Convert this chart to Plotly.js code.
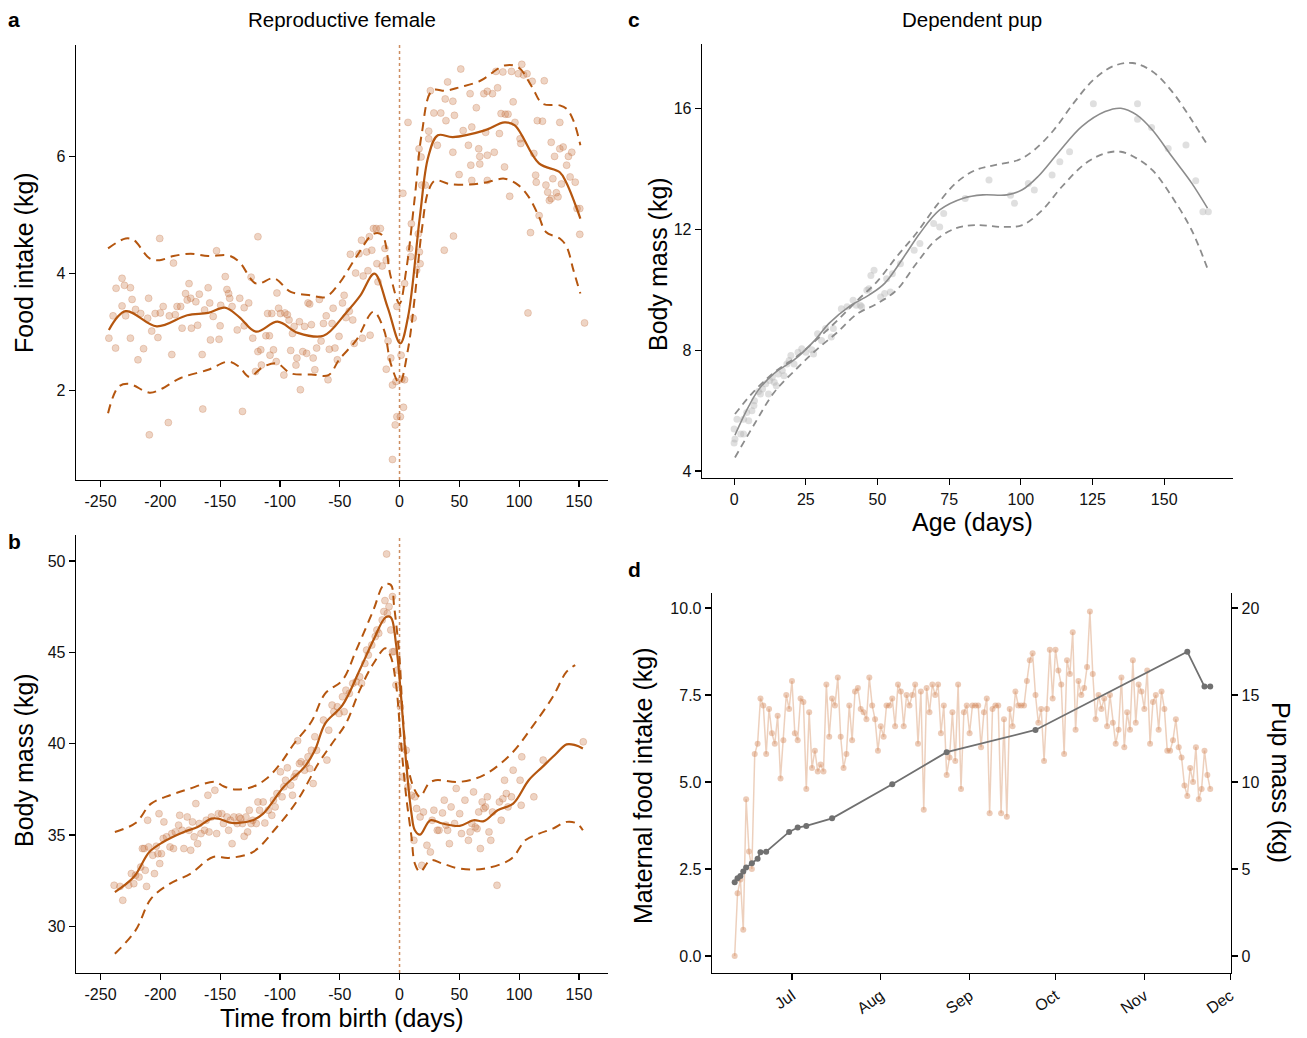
<!DOCTYPE html>
<html>
<head>
<meta charset="utf-8">
<script src="https://cdn.plot.ly/plotly-3.0.1.min.js"></script>
<style>html,body{margin:0;padding:0;background:#fff;}#chart{width:1307px;height:1038px;}</style>
</head>
<body>
<div id="chart"></div>
<script>
// ---------- Panel a: reproductive female, food intake ----------
const aPtsX = [-243,-237.4,-237,-239.5,-232,-230,-225,-232,-229,-223.6,-225,-220.7,-218.7,-216.4,-214,-210.6,-209.8,-209.2,-207.2,-204.3,-202,-200.5,-200,-197.6,-193.3,-192.5,-190.4,-189,-187.5,-186,-183,-181.8,-178.9,-177.5,-176,-174.6,-174,-170.3,-168.8,-167.4,-165,-164.5,-163,-160,-158.7,-158.1,-155.8,-153,-150.9,-150,-149.5,-145.7,-144.3,-142.9,-142,-140,-135.7,-133.6,-131.3,-129.9,-129.9,-126.1,-124.1,-122.7,-120.4,-118.4,-118.4,-116,-115.5,-111.7,-110.3,-108.8,-108.3,-106.8,-105.4,-103.1,-102.5,-101.1,-99.6,-96.7,-95.9,-93.8,-92.4,-91,-89.5,-88.1,-86.6,-85.8,-83.7,-82.9,-80.9,-79.4,-77.7,-76.5,-75.1,-73.7,-72.2,-70.8,-69.3,-67,-65.6,-63.6,-61.3,-59.8,-58.7,-56.4,-55.5,-54,-52,-50.6,-47.7,-46.3,-44.8,-42,-41.1,-39.1,-37.9,-36.7,-33.9,-31.8,-31,-30.4,-27.5,-26.4,-25.2,-24.6,-23.2,-21.8,-19.5,-18.9,-18,-16,-14.5,-12.2,-11.1,-11.1,-9.6,-7.3,-5.9,-5.9,-3,-3.6,-2.2,-2.2,0.7,1.3,1.9,2.8,3.3,4.2,4.2,7.1,8.5,9.4,9.9,11.4,14.3,15.7,16.6,17.2,18,18.6,16.3,21.5,25.8,24.4,24.4,28.7,31.6,34.5,37.4,38.2,38.8,40.2,44.6,44.6,45.1,45.9,49.8,51.2,53.2,57.6,59,59.6,60.4,60.4,64.2,66.2,67.1,67.1,70.5,72,73.4,73.4,73.4,77.7,79.2,80.6,82,83.5,84.9,86.4,87.8,88.4,90.7,92.1,93.6,95,96.5,99.3,100.8,101.4,102.2,103.7,106.6,109.5,107.4,110.9,112.3,113.8,114.3,115.2,116.7,119.5,121,122.4,123.9,125.3,126.8,126.8,128.2,129.6,131.1,132.5,134,134,135.4,136.8,139.7,141.2,142.6,144,146.9,148.4,150.7,150.7,154.7];
const aPtsY = [2.90,2.73,3.75,3.28,3.92,3.80,3.76,3.45,3.28,3.56,2.90,3.39,2.53,3.32,2.72,3.24,3.58,1.25,3.02,3.32,2.91,4.60,3.33,3.44,1.46,3.28,2.62,4.18,3.30,3.44,3.44,3.07,3.66,3.55,3.83,3.58,3.07,3.52,3.12,3.65,2.62,1.69,3.38,3.76,3.50,2.87,3.27,4.39,2.88,3.11,3.46,3.95,3.73,3.66,3.58,3.44,3.04,3.58,1.65,3.42,3.11,3.50,3.94,2.90,2.33,4.63,2.67,2.70,2.44,2.94,3.32,2.94,2.61,3.32,2.70,2.50,3.67,3.41,3.32,2.27,3.33,3.30,3.21,2.69,2.98,3.10,2.44,2.56,3.18,2.02,2.67,3.10,2.64,3.50,3.48,3.13,2.56,2.36,2.73,3.56,2.85,3.15,3.28,2.19,2.71,3.15,3.41,2.73,2.53,2.93,3.50,3.63,3.25,3.36,4.33,3.21,2.81,4.01,4.34,4.57,2.90,3.96,4.37,4.05,4.63,2.95,4.40,4.77,4.77,4.17,3.86,4.77,4.13,4.43,4.23,2.37,2.85,2.56,2.10,0.83,2.16,1.42,1.56,3.44,1.56,2.61,2.20,5.37,1.72,2.19,3.83,6.58,4.43,4.29,4.85,3.24,4.06,4.68,4.37,4.17,5.99,5.51,6.13,5.51,7.12,6.43,6.30,6.74,6.19,6.74,4.40,6.98,6.61,7.27,6.07,6.94,4.64,6.70,5.69,7.49,6.44,6.19,7.07,5.85,6.50,5.59,6.83,6.13,6.00,5.87,7.07,6.41,7.11,6.02,5.59,7.07,6.07,7.45,7.17,6.39,6.73,7.44,5.82,6.72,6.72,5.32,7.45,6.93,6.58,7.41,6.30,6.22,7.57,7.39,7.41,4.70,3.33,7.28,6.05,5.68,5.56,6.61,4.99,6.60,7.29,5.51,5.39,5.25,6.24,5.28,5.62,6.00,5.38,5.31,6.58,6.13,5.53,6.16,5.85,6.00,5.65,6.07,5.56,5.11,5.11,4.67,3.16];
const aFitX = [-243,-229,-203,-177.5,-160,-146,-134,-120,-102,-85,-63.6,-44.8,-33,-21,-10,0.6,7.1,17,24,32,44.6,70.5,87.8,96.4,116.6,134,139.7,151.2];
const aFitY = [3.04,3.36,3.10,3.29,3.33,3.42,3.26,3.01,3.18,2.99,2.94,3.33,3.62,4.00,3.43,2.81,3.26,4.97,5.99,6.36,6.33,6.44,6.58,6.53,5.88,5.73,5.54,4.94];
const aUpX = [-243.7,-229,-222,-209,-200.5,-189,-174.6,-160,-143,-134,-119.8,-105,-91,-73.7,-62,-50.6,-36,-21.8,-14.6,-7.4,0,5.6,12.8,18.6,27.2,38.8,50.3,67.6,87.8,99.3,110.9,119.5,134,139.7,145.4,151.2];
const aUpY = [4.43,4.60,4.57,4.26,4.23,4.30,4.34,4.30,4.31,4.20,3.83,3.92,3.69,3.63,3.60,3.83,4.29,4.68,4.66,3.95,3.49,4.06,5.31,6.39,7.12,7.12,7.18,7.29,7.55,7.52,7.18,6.90,6.87,6.81,6.61,6.19];
const aLoX = [-243.7,-235,-226.5,-209,-200.5,-183,-160,-143,-134,-125.6,-114,-102.5,-91,-73.7,-59.3,-50.6,-36,-21.8,-13,-7.4,0,7,12.8,18.6,24.3,30,41.6,59,73.3,87.8,99.3,108,116.6,122.4,134,139.7,145.4,151.2];
const aLoY = [1.62,2.07,2.12,1.97,2.02,2.22,2.36,2.50,2.41,2.24,2.41,2.47,2.30,2.28,2.27,2.53,2.87,3.35,3.04,2.47,2.13,2.70,3.61,4.74,5.42,5.59,5.53,5.52,5.56,5.62,5.51,5.31,4.97,4.71,4.60,4.46,4.06,3.66];

// ---------- Panel b: reproductive female, body mass ----------
const bPtsX = [-238.6,-231.4,-233.7,-226.5,-224.2,-222.2,-220.7,-217.8,-216.4,-215,-213.5,-212.6,-211.5,-210.6,-209.8,-206.3,-204.9,-203.4,-202,-201.1,-200.5,-199.1,-197.6,-197,-194.8,-191.9,-190.4,-189,-187.5,-184.7,-183.8,-181.8,-180.3,-177.5,-176,-174.6,-173.1,-171.7,-170.3,-168.8,-167.4,-166,-163,-161.6,-160.2,-159.3,-157.3,-154.4,-152.9,-151.5,-148.6,-147.2,-144.3,-142.9,-141.4,-140,-138.5,-135.7,-134.2,-132.8,-131.3,-129.9,-128.4,-127,-125.6,-124.1,-122.7,-119.8,-118.4,-117,-114,-112.6,-109.7,-106.8,-105.4,-104,-102.5,-99.6,-98.2,-96.7,-95.3,-93.8,-91,-89.5,-88.1,-86.6,-85.2,-83.7,-82.3,-79.4,-78,-76.5,-75.1,-73.7,-72.2,-70.8,-69.3,-63.6,-60.7,-59.2,-56.4,-54.9,-52,-50.6,-47.7,-46.3,-44.8,-42,-39.1,-36.2,-33.3,-31.8,-29,-27.5,-26.1,-23.2,-20.3,-18.9,-17.4,-14.5,-13.1,-12.2,-10.8,-10.2,-8.8,-7.3,-5.9,-5.9,-4.5,-3,-1.6,0.7,1.9,2.8,5.6,7.1,10,12,12.8,14.3,17.2,18.6,20,22.9,25.8,27.3,28.7,31.6,33,35.9,37.4,38.8,40.2,41.7,43.1,46,47.4,50.3,51.8,54.7,57.6,59,60.4,61.9,63.3,64.8,66.2,67.6,69.1,70.5,71.9,73.4,74.8,76.3,77.7,81.5,83.5,85,86.4,87.8,89.3,90.7,93.6,95,100.8,101.7,102.2,112.3,120.1,153.6];
const bPtsY = [32.25,31.43,32.19,32.25,32.89,32.34,32.80,32.70,33.25,34.26,34.26,33.07,32.19,35.81,34.35,33.89,32.89,34.39,33.98,36.17,33.44,33.98,34.81,35.72,34.90,34.35,35.08,34.26,35.17,35.54,36.08,35.26,34.26,35.99,35.26,34.17,35.72,34.90,36.72,34.53,35.63,35.08,35.26,35.81,37.18,35.17,35.99,37.45,35.08,36.17,36.17,35.63,35.99,35.26,35.81,34.53,35.99,35.63,35.99,35.90,35.63,34.93,35.99,35.17,36.36,35.63,35.81,35.63,36.81,36.36,36.81,35.66,36.36,36.08,36.91,36.54,37.27,38.46,37.09,37.64,38.00,38.68,37.73,37.18,38.18,38.37,40.16,38.91,39.01,38.55,38.91,39.28,38.64,39.64,37.82,40.38,39.64,41.29,39.10,40.74,42.11,41.75,42.02,41.65,42.57,41.75,42.93,42.75,43.30,43.39,43.66,43.30,44.39,45.12,44.85,45.40,45.86,46.22,46.04,46.77,47.23,47.83,50.38,47.13,47.50,46.22,48.05,45.03,45.04,43.21,44.03,42.02,39.83,38.18,39.64,37.64,37.18,34.71,37.09,36.45,35.99,33.34,36.26,34.44,34.07,35.81,36.36,35.26,35.26,36.21,36.91,35.54,35.26,34.53,36.54,35.63,37.55,36.17,35.08,36.91,34.71,35.17,35.63,37.36,35.44,35.35,36.26,34.26,36.81,36.45,36.54,37.09,35.17,34.71,36.26,32.25,36.81,35.81,36.99,38.00,37.27,36.54,37.09,38.55,38.00,36.63,39.28,37.09,39.10,40.10];
const bFitX = [-238,-222.2,-209.2,-197.6,-180.3,-168.8,-157.3,-151.5,-140,-122.7,-114,-96.7,-79.4,-70.8,-62.1,-47.7,-33.3,-21.8,-11.7,-7.3,-3,1.3,5.6,10,12.8,17.2,25.8,35.9,50.3,61.9,70.5,82,95,108,119.5,131.1,139.7,146.9,153.3];
const bFitY = [31.88,32.70,34.07,34.62,35.17,35.44,35.90,35.90,35.66,35.81,36.17,37.64,38.73,39.64,41.11,42.11,44.03,45.67,46.91,46.91,45.49,42.57,38.91,36.17,35.26,35.02,35.81,35.63,35.50,35.81,35.76,36.36,36.72,38.00,38.73,39.46,39.96,39.92,39.74];
const bUpX = [-238,-220.7,-207.7,-191.9,-177.5,-154.4,-147.2,-137.1,-122.7,-111.1,-99.6,-88.1,-73.7,-62.1,-47.7,-36.2,-21.8,-13.1,-7.3,-4.5,-0.1,2.8,7.1,12.8,17.2,24.4,30.1,50.3,70.5,93.6,110.9,128.2,139.7,146.9];
const bUpY = [35.17,35.66,36.72,37.18,37.49,37.91,37.67,37.49,37.64,38.09,38.91,40.01,41.20,42.75,43.48,45.12,47.32,48.69,48.69,47.50,44.76,41.47,38.73,37.45,37.09,37.82,38.00,37.91,38.28,39.46,40.92,42.57,43.94,44.30];
const bLoX = [-238,-220.7,-207.7,-191.9,-174.6,-155.8,-142.9,-122.7,-102.5,-85.2,-67.9,-56.4,-44.8,-33.3,-21.8,-11.7,-7.3,-3,1.3,5.6,10,12.8,17.2,25.8,35.9,50.3,70.5,93.6,105.1,116.7,128.2,139.7,148.4,153.3];
const bLoY = [28.50,29.78,31.52,32.34,32.89,33.80,33.75,34.07,35.44,36.91,38.91,40.01,41.11,42.93,44.39,45.22,44.76,43.30,40.01,37.09,34.90,33.44,32.98,33.62,33.44,33.16,33.16,33.71,34.71,35.08,35.35,35.72,35.63,35.26];

// ---------- Panel c: dependent pup, body mass ----------
const cPtsX = [0,0.3,0,1,2.3,3.3,3.3,4.4,5.1,6.2,6.9,7.1,8.5,9.2,9.9,11,12,12.4,13.3,14,14.7,15.4,16.8,17.4,18.4,19.2,19.8,20.9,22.3,23.6,25,27.1,27.7,29.1,30.5,31.9,33.9,34.6,37.4,39.4,41.5,42.6,44,44.5,46.3,47,47.7,48.8,51.1,52.5,53.2,54.5,55.2,58,62.8,64.8,69.6,71.7,73.1,80.6,88.9,96.4,97.8,102.6,104.7,110.9,113.6,117,125.3,140.7,140.7,145.6,151.4,157.6,161,163.5,165.4];
const cPtsY = [4.93,5.06,5.39,5.72,5.23,5.23,5.72,5.94,5.67,6.00,6.17,6.33,6.64,6.55,6.72,6.89,6.55,7.00,7.11,6.94,6.83,7.22,7.33,7.16,7.55,7.66,7.83,7.55,7.94,8.05,7.94,8.02,7.88,8.55,8.33,8.72,8.44,8.72,9.38,9.44,9.66,9.49,9.49,9.44,9.99,10.04,10.48,10.65,9.77,9.88,10.37,9.93,10.54,10.87,11.32,11.54,12.20,12.09,12.53,13.03,13.64,13.14,12.87,13.53,13.31,13.81,14.25,14.58,16.17,16.17,15.66,15.38,14.69,14.80,13.62,12.59,12.59];
const cFitX = [0.3,4.4,8.5,14.0,20.9,27.7,33.2,40.1,47.0,52.5,59.3,64.8,71.7,79.9,86.8,95.1,100.5,106.0,112.9,121.2,129.4,134.9,140.4,145.9,152.7,159.6,165.1];
const cFitY = [5.19,6.02,6.69,7.24,7.68,8.29,8.90,9.45,9.83,10.22,11.11,11.88,12.65,13.04,13.15,13.15,13.32,13.76,14.53,15.41,15.91,16.02,15.80,15.30,14.42,13.54,12.71];
const cUpX = [0.3,7.1,14,22.3,29.1,36,42.9,49.7,56.6,63.5,70.3,77.2,84.1,90.9,99.2,104.7,111.5,118.4,125.3,132.1,139,145.9,152.7,159.6,165.1];
const cUpY = [5.89,6.66,7.27,7.83,8.38,8.99,9.65,10.26,11.09,11.87,12.76,13.53,13.97,14.14,14.31,14.64,15.30,16.19,16.96,17.41,17.52,17.24,16.58,15.63,14.80];
const cLoX = [0.3,7.1,14,22.3,29.1,36,42.9,49.7,56.6,63.5,70.3,77.2,84.1,93.7,100.5,107.4,114.3,122.5,129.4,134.9,140.4,145.9,152.7,159.6,165.1];
const cLoY = [4.45,5.56,6.61,7.44,8.05,8.60,9.21,9.54,9.99,10.87,11.65,12.04,12.15,12.09,12.15,12.64,13.42,14.19,14.53,14.58,14.36,13.97,13.09,11.98,10.71];

// ---------- Panel d: maternal food intake & pup mass over the season ----------
const dYear = '2021';
const foodDates = ['06-11','06-12','06-13','06-14','06-15','06-16','06-17','06-18','06-19','06-20','06-21','06-22','06-23','06-24','06-25','06-26','06-27','06-28','06-29','06-30',
'07-01','07-02','07-03','07-04','07-05','07-06','07-07','07-08','07-09','07-10','07-11','07-12','07-13','07-14','07-15','07-16','07-17','07-18','07-19','07-20','07-21','07-22','07-23','07-24','07-25','07-26','07-27','07-28','07-29','07-30','07-31',
'08-01','08-02','08-03','08-04','08-05','08-06','08-07','08-08','08-09','08-10','08-11','08-12','08-13','08-14','08-15','08-16','08-17','08-18','08-19','08-20','08-21','08-22','08-23','08-24','08-25','08-26','08-27','08-28','08-29','08-30','08-31',
'09-01','09-02','09-03','09-04','09-05','09-06','09-07','09-08','09-09','09-10','09-11','09-12','09-13','09-14','09-15','09-16','09-17','09-18','09-19','09-20','09-21','09-22','09-23','09-24','09-25','09-26','09-27','09-28','09-29','09-30',
'10-01','10-02','10-03','10-04','10-05','10-06','10-07','10-08','10-09','10-10','10-11','10-12','10-13','10-14','10-15','10-16','10-17','10-18','10-19','10-20','10-21','10-22','10-23','10-24','10-25','10-26','10-27','10-28','10-29','10-30','10-31',
'11-01','11-02','11-03','11-04','11-05','11-06','11-07','11-08','11-09','11-10','11-11','11-12','11-13','11-14','11-15','11-16','11-17','11-18','11-19','11-20','11-21','11-22','11-23','11-24'];
const foodKg = [0.0,1.8,2.2,0.75,4.5,3.0,2.5,5.8,6.1,7.4,7.2,5.8,7.1,6.4,6.1,6.9,5.1,6.2,7.5,7.1,
7.9,6.4,6.2,7.4,7.3,4.8,7.0,5.4,5.9,5.3,5.5,5.3,7.8,6.3,7.4,7.2,8.0,6.3,5.4,5.8,7.2,6.2,7.6,7.7,7.1,7.0,6.8,8.0,7.2,6.8,5.9,
6.6,6.3,7.2,7.2,7.4,6.6,7.8,7.6,6.6,7.5,7.2,7.5,7.8,6.1,7.6,4.2,7.7,7.0,7.8,7.5,7.8,6.4,7.2,5.2,5.7,7.0,5.6,7.8,4.8,7.0,7.2,
6.4,7.2,7.2,7.2,6.0,7.0,7.4,4.1,7.1,7.2,7.2,4.1,6.8,4.0,7.1,6.6,7.6,7.2,7.2,7.2,7.9,8.5,8.7,7.5,6.7,7.1,5.6,7.1,
8.8,7.4,8.8,8.2,7.8,5.8,8.5,8.1,9.3,6.5,7.9,7.5,7.7,8.3,9.9,8.1,6.8,7.5,7.1,7.4,6.6,7.5,6.7,6.1,6.5,8.0,6.0,7.0,6.5,8.5,6.7,
7.8,7.6,7.1,8.2,6.1,7.3,7.5,6.5,7.6,7.1,5.9,5.9,6.2,6.8,6.0,5.7,4.9,4.6,5.4,5.0,6.0,4.5,4.8,5.9,5.2,4.8];
const pupDates = ['06-11','06-12','06-13','06-14','06-15','06-17','06-19','06-20','06-22','06-30','07-03','07-06','07-15','08-05','08-24','09-24','11-16','11-22','11-24'];
const pupKg = [4.24,4.47,4.60,4.85,5.08,5.33,5.59,5.96,5.99,7.13,7.38,7.47,7.91,9.87,11.71,12.99,17.49,15.48,15.48];

// ---------- Tick labels ----------
const abXTicks = [-250,-200,-150,-100,-50,0,50,100,150];
const abXText = ['-250','-200','-150','-100','-50','0','50','100','150'];
const aYTicks = [2,4,6];
const bYTicks = [30,35,40,45,50];
const cXTicks = [0,25,50,75,100,125,150];
const cYTicks = [4,8,12,16];
const dMonths = ['07-01','08-01','09-01','10-01','11-01','12-01'];
const dMonthText = ['Jul','Aug','Sep','Oct','Nov','Dec'];
const dLeftTicks = [0,2.5,5,7.5,10];
const dRightTicks = [0,5,10,15,20];

// ---------- Styling ----------
const FONT = 'Liberation Sans, Arial, Helvetica, sans-serif';
const ORANGE = '#b5560f';
const ptOrange = {color:'rgba(200,112,60,0.30)', size:7, line:{color:'rgba(190,100,50,0.30)', width:0.8}};
const ptGrey = {color:'rgba(175,175,175,0.40)', size:7, line:{width:0}};

function ax(extra){
  return Object.assign({showline:true, linecolor:'#000', linewidth:1.3, ticks:'outside', ticklen:6, tickwidth:1.2,
    tickcolor:'#000', showgrid:false, zeroline:false, mirror:false, fixedrange:true,
    tickfont:{family:FONT, size:16, color:'#111'}}, extra);
}
function pts(x,y,xa,ya,m){ return {type:'scatter', mode:'markers', x:x, y:y, xaxis:xa, yaxis:ya, marker:m, hoverinfo:'skip', showlegend:false}; }
function ln(x,y,xa,ya,color,w,dash){ return {type:'scatter', mode:'lines', x:x, y:y, xaxis:xa, yaxis:ya, line:{color:color, width:w, dash:dash, shape:'spline', smoothing:1}, hoverinfo:'skip', showlegend:false}; }

const withYear = arr => arr.map(s => dYear + '-' + s);

const traces = [
  pts(aPtsX, aPtsY, 'x', 'y', ptOrange),
  ln(aUpX, aUpY, 'x', 'y', ORANGE, 2, '9px,6px'),
  ln(aLoX, aLoY, 'x', 'y', ORANGE, 2, '9px,6px'),
  ln(aFitX, aFitY, 'x', 'y', ORANGE, 2.2, 'solid'),

  pts(bPtsX, bPtsY, 'x2', 'y2', ptOrange),
  ln(bUpX, bUpY, 'x2', 'y2', ORANGE, 2, '9px,6px'),
  ln(bLoX, bLoY, 'x2', 'y2', ORANGE, 2, '9px,6px'),
  ln(bFitX, bFitY, 'x2', 'y2', ORANGE, 2.2, 'solid'),

  pts(cPtsX, cPtsY, 'x3', 'y3', ptGrey),
  ln(cUpX, cUpY, 'x3', 'y3', '#8c8c8c', 1.8, '7px,5px'),
  ln(cLoX, cLoY, 'x3', 'y3', '#8c8c8c', 1.8, '7px,5px'),
  ln(cFitX, cFitY, 'x3', 'y3', '#8c8c8c', 1.6, 'solid'),

  {type:'scatter', mode:'lines+markers', x:withYear(foodDates), y:foodKg, xaxis:'x4', yaxis:'y4',
   line:{color:'rgba(222,170,135,0.55)', width:1.5}, marker:{color:'rgba(212,140,95,0.45)', size:6},
   hoverinfo:'skip', showlegend:false},
  {type:'scatter', mode:'lines+markers', x:withYear(pupDates), y:pupKg, xaxis:'x4', yaxis:'y5',
   line:{color:'#707070', width:1.8}, marker:{color:'#707070', size:6},
   hoverinfo:'skip', showlegend:false}
];

const W = 1307, H = 1038;
const px = v => v / W, py = v => 1 - v / H;

function note(text, x, y, size, extra){
  return Object.assign({text:text, x:px(x), y:py(y), xref:'paper', yref:'paper', showarrow:false,
    xanchor:'center', yanchor:'middle', font:{family:FONT, size:size, color:'#000'}}, extra||{});
}

const layout = {
  width:W, height:H, margin:{l:0,r:0,t:0,b:0}, paper_bgcolor:'#fff', plot_bgcolor:'#fff', showlegend:false,
  xaxis: ax({domain:[px(76), px(608)], anchor:'y', range:[-270.5,174.3], tickvals:abXTicks, ticktext:abXText}),
  yaxis: ax({domain:[py(480), py(45)], anchor:'x', range:[0.48,7.9], tickvals:aYTicks}),
  xaxis2: ax({domain:[px(76), px(608)], anchor:'y2', range:[-270.5,174.3], tickvals:abXTicks, ticktext:abXText}),
  yaxis2: ax({domain:[py(973), py(535)], anchor:'x2', range:[27.45,51.42], tickvals:bYTicks}),
  xaxis3: ax({domain:[px(702), px(1233)], anchor:'y3', range:[-11.2,174], tickvals:cXTicks}),
  yaxis3: ax({domain:[py(478), py(44)], anchor:'x3', range:[3.77,18.15], tickvals:cYTicks}),
  xaxis4: ax({domain:[px(712), px(1231)], anchor:'y4', type:'date', range:[dYear+'-06-03 02:00', dYear+'-12-01 06:00'],
    tickvals:withYear(dMonths), ticktext:dMonthText, tickangle:-35}),
  yaxis4: ax({domain:[py(973), py(593)], anchor:'x4', range:[-0.49,10.43], tickvals:dLeftTicks, tickformat:'.1f'}),
  yaxis5: ax({domain:[py(973), py(593)], anchor:'x4', overlaying:'y4', side:'right', range:[-0.98,20.86], tickvals:dRightTicks}),
  shapes: [
    {type:'line', xref:'x', yref:'y domain', x0:0, x1:0, y0:0, y1:1, line:{color:'rgba(200,130,80,0.9)', width:1.5, dash:'dot'}, layer:'below'},
    {type:'line', xref:'x2', yref:'y2 domain', x0:0, x1:0, y0:0, y1:1, line:{color:'rgba(200,130,80,0.9)', width:1.5, dash:'dot'}, layer:'below'}
  ],
  annotations: [
    note('<b>a</b>', 14, 19, 21),
    note('<b>b</b>', 14, 541, 21),
    note('<b>c</b>', 634, 19, 21),
    note('<b>d</b>', 634, 569, 21),
    note('Reproductive female', 342, 19, 20.5),
    note('Dependent pup', 972, 19, 20.5),
    note('Food intake (kg)', 24, 263, 25, {textangle:-90}),
    note('Body mass (kg)', 24, 760, 25, {textangle:-90}),
    note('Time from birth (days)', 342, 1018, 25),
    note('Body mass (kg)', 658, 264, 25, {textangle:-90}),
    note('Age (days)', 972, 522, 25),
    note('Maternal food intake (kg)', 643, 786, 25, {textangle:-90}),
    note('Pup mass (kg)', 1281, 782, 25, {textangle:90})
  ]
};

Plotly.newPlot('chart', traces, layout, {displayModeBar:false, staticPlot:true});
</script>
</body>
</html>
